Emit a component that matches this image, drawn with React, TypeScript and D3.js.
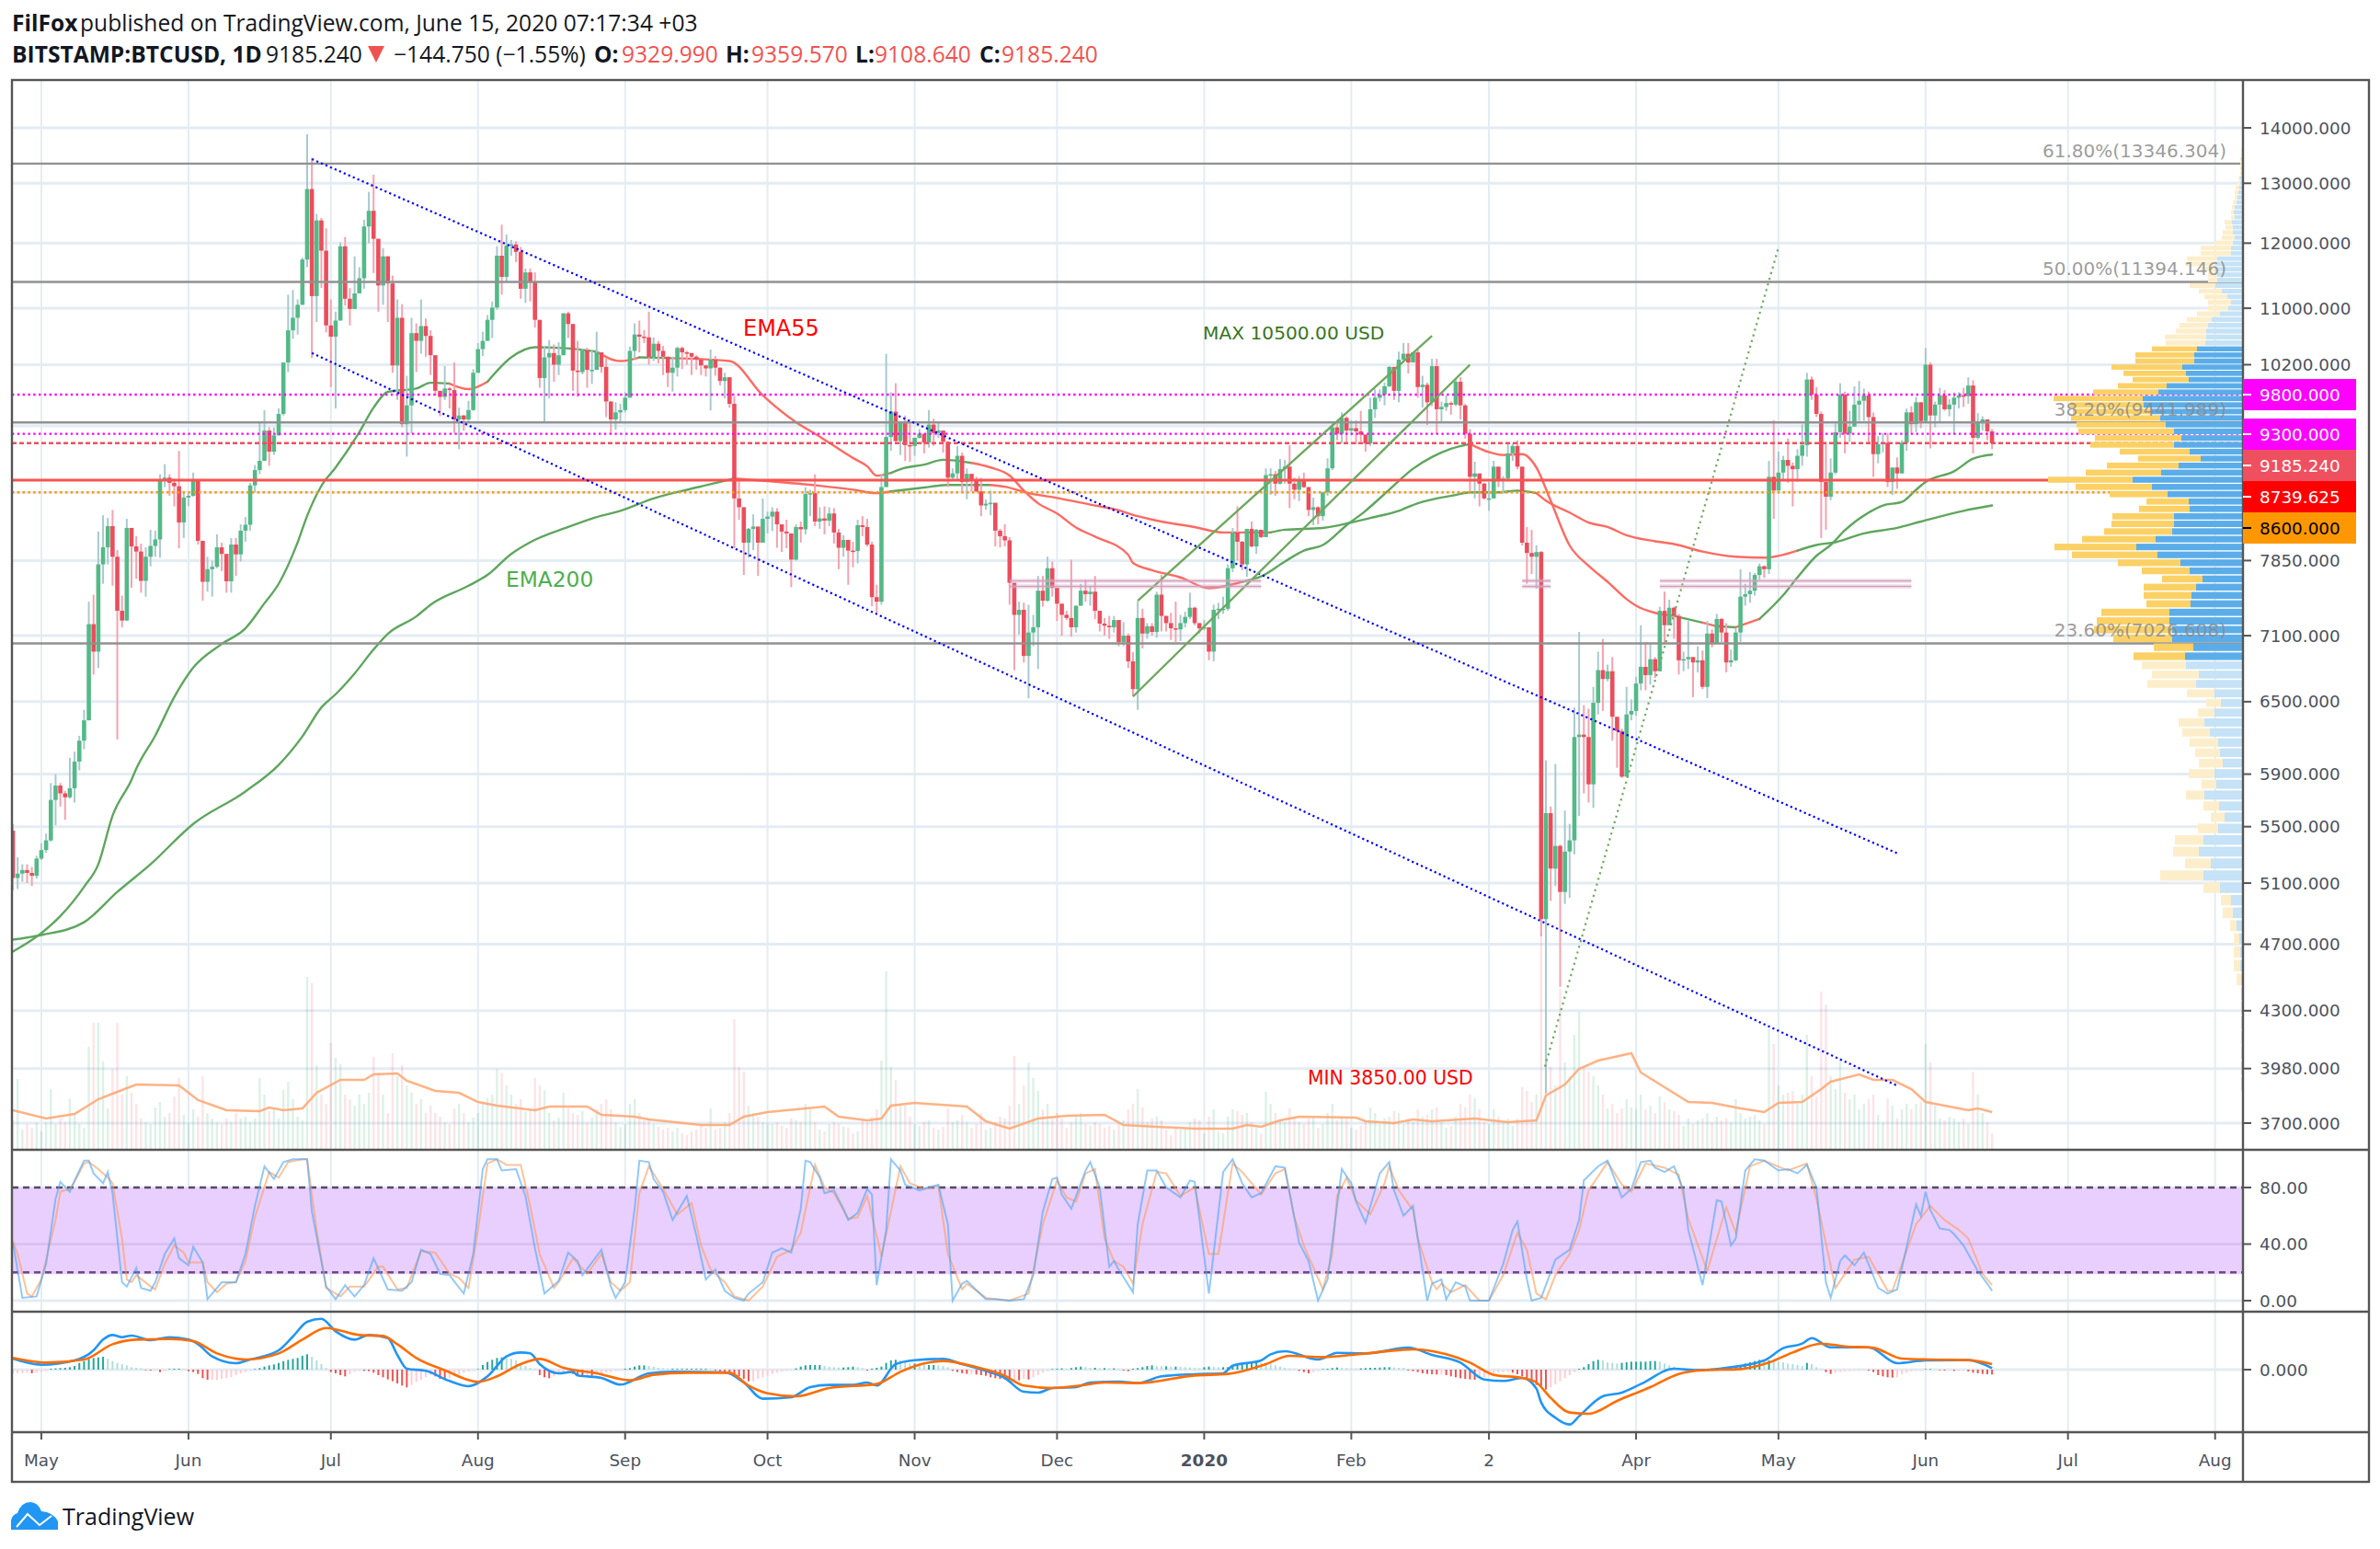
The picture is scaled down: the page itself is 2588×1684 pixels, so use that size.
import { useEffect, useRef } from 'react';
import * as d3 from 'd3';

// daily bars, first bar is 25 Apr 2019, last is 15 Jun 2020
const firstOpen = 5470;
const closes = [
  5135,5165,5190,5170,5150,5270,5330,5400,5700,5810,
  5750,5720,5790,6000,6170,6340,7210,6950,7810,7990,
  8220,7890,7340,7245,8200,8000,7945,7640,7890,8005,
  8075,8740,8770,8710,8670,8260,8540,8560,8735,8060,
  7630,7760,7785,7990,7920,7635,8020,7915,8170,8235,
  8680,8860,8970,9340,9080,9280,9550,10230,10680,10860,
  11050,11740,12900,11180,12370,11880,10750,10590,10820,11950,
  11140,10990,11220,11450,12270,12530,12070,11340,11790,11370,
  10190,10860,9420,9660,10640,10530,10740,10600,10330,9850,
  9770,9880,9860,9480,9530,9480,9600,10090,10415,10530,
  10830,11010,11800,11470,11960,11980,11860,11290,11540,11390,
  10830,10020,10300,10360,10200,10330,10925,10770,10120,10100,
  10400,10130,10130,10370,10170,9710,9480,9570,9600,9760,
  10390,10620,10590,10580,10300,10490,10390,10310,10090,10160,
  10430,10370,10360,10310,10270,10190,10150,10270,10160,9980,
  10030,9680,8530,8430,8040,8190,8215,8040,8300,8325,
  8380,8240,8160,8140,7860,8210,8185,8580,8590,8270,
  8305,8280,8360,8150,7985,8070,7955,7950,8230,8210,
  8020,7475,7430,8660,9260,9580,9210,9440,9160,9150,
  9250,9300,9190,9415,9310,9340,9200,8770,8820,9030,
  8720,8815,8735,8610,8450,8470,8480,8170,8110,8065,
  7620,7300,7350,6910,7130,7180,7540,7440,7770,7570,
  7410,7300,7270,7180,7390,7540,7505,7530,7340,7215,
  7195,7180,7250,7040,7100,6860,6610,7270,7120,7190,
  7135,7500,7290,7220,7170,7160,7220,7280,7370,7220,
  7170,7180,6950,7350,7360,7360,7770,8150,8050,7810,
  8190,8000,8180,8100,8800,8810,8700,8870,8900,8700,
  8630,8730,8660,8400,8430,8330,8600,8880,9380,9300,
  9500,9340,9370,9330,9290,9180,9610,9760,9800,9910,
  10170,9850,10270,10350,10230,10370,9900,9930,9700,10180,
  9610,9640,9690,9670,9970,9660,9300,8780,8820,8700,
  8530,8530,8900,8750,8760,9060,9150,8900,8040,7930,
  7890,7940,4860,5600,5200,5360,5040,5320,5400,6200,
  6220,6200,5820,6490,6780,6700,6770,6370,6250,5880,
  6390,6420,6660,6810,6735,6880,6770,7340,7200,7370,
  7290,6870,6880,6900,6850,6870,6630,7120,7030,7260,
  7130,6850,6870,7130,7480,7505,7540,7700,7790,7760,
  8780,8620,8830,8980,8910,8870,9030,9160,10000,9800,
  9550,8720,8550,8830,9320,9800,9300,9390,9670,9720,
  9790,9510,9050,9170,9190,8720,8890,8820,9190,9570,
  9420,9700,9460,10200,9530,9670,9790,9610,9670,9760,
  9790,9780,9920,9250,9440,9480,9330,9185,
];
const highs = [
  5520,5280,5230,5230,5210,5290,5380,5450,5830,5900,
  5830,5770,6030,6080,6210,6430,7430,7500,8160,8340,
  8310,8400,7960,7490,8300,8200,8110,8030,7990,8180,
  8170,8810,8930,8810,8760,9090,8600,8590,8830,8735,
  8060,7890,7850,8130,8040,7920,8090,8090,8240,8320,
  8710,8920,9450,9600,9380,9380,9620,10230,11200,11270,
  11130,11770,13880,13450,12480,12410,12240,11130,10950,12010,
  12100,11300,11790,11620,12380,12850,13150,12070,11920,11790,
  11490,11130,11060,10050,10860,10780,11130,10850,10680,10330,
  9850,10180,9900,10230,9630,9540,9720,10140,10500,10660,
  10900,11100,11950,12300,12140,12050,12030,11940,11600,11600,
  11540,10830,10450,10540,10480,10510,10930,10950,10770,10530,
  10420,10435,10400,10660,10370,10290,9710,9700,9680,9830,
  10450,10780,10820,10680,10950,10580,10530,10460,10310,10310,
  10450,10450,10390,10360,10330,10270,10190,10410,10320,10160,
  10090,10030,9780,8740,8430,8200,8350,8215,8530,8380,
  8430,8420,8240,8290,8140,8240,8270,8660,8630,8810,
  8430,8440,8430,8420,8190,8120,8060,8050,8290,8330,
  8300,8050,7600,8810,10350,9830,9950,9440,9530,9440,
  9255,9360,9300,9600,9490,9450,9340,9210,8880,9150,
  9070,8880,8810,8780,8770,8520,8620,8480,8190,8240,
  8100,7620,7430,7420,7400,7300,7690,7690,7890,7840,
  7570,7410,7340,7860,7390,7610,7650,7590,7690,7340,
  7270,7290,7290,7250,7230,7120,6945,7435,7360,7220,
  7220,7530,7700,7290,7320,7430,7300,7330,7520,7380,
  7220,7250,7180,7400,7420,7480,7810,8200,8440,8060,
  8190,8270,8190,8180,8880,8880,8850,8990,8980,9160,
  8770,8790,8830,8660,8540,8440,8600,9000,9430,9430,
  9570,9520,9470,9470,9590,9290,9760,9870,9870,9960,
  10180,10170,10380,10500,10500,10370,10420,10050,9960,10280,
  10280,9710,9790,9710,10010,10030,9680,9360,8960,8800,
  8710,8720,8970,8900,8790,9170,9180,9220,8900,8210,
  8180,8010,7950,6010,5650,5980,5370,5620,5520,6450,
  7135,6470,6440,6630,6950,7070,6830,6900,6370,6270,
  6630,6520,6720,7200,7040,7020,6900,7380,7530,7450,
  7380,7310,6950,7240,6900,7000,6960,7240,7160,7310,
  7270,7220,6970,7170,7760,7610,7730,7720,7820,7800,
  8970,9470,9080,9030,9240,8950,9110,9420,10090,10040,
  9900,9580,9200,9000,9430,9950,9840,9590,9910,9980,
  9880,9840,9570,9270,9310,9310,8890,9010,9220,9620,
  9650,9770,9700,10430,10230,9710,9890,9860,9740,9830,
  9830,9890,10030,9990,9560,9520,9480,9360,
];
const lows = [
  5050,5060,5110,5100,5080,5130,5260,5310,5390,5510,
  5650,5550,5710,5680,5930,6100,6340,6740,6800,7610,
  7810,7590,6180,7180,7240,7570,7660,7520,7480,7790,
  7890,7880,8660,8560,8440,7980,8090,8440,8550,8020,
  7440,7530,7480,7770,7740,7520,7520,7690,7840,8050,
  8170,8600,8810,8970,8910,9040,9280,9530,10100,10560,
  10620,11050,11620,10290,10800,11300,10650,9900,9620,10820,
  11040,10750,10990,11220,11290,12000,11530,10950,11050,10800,
  10090,9730,9380,9020,9300,10100,10350,10310,10060,9790,
  9520,9730,9620,9310,9110,9340,9450,9590,10090,10320,
  10530,10570,10980,11200,11400,11800,11700,11140,11080,11100,
  10720,9890,9450,9750,9970,10060,10330,10570,9850,9770,
  10070,9890,9940,10130,10090,9510,9300,9350,9450,9570,
  9760,10280,10370,10500,10200,10250,10220,10060,9900,9840,
  10040,10140,10200,10060,10130,10060,10040,9595,10050,9920,
  9750,9630,7980,8290,7700,7880,7960,7690,8040,8140,
  8165,7985,7940,7980,7575,7850,8040,8130,8330,8220,
  8190,8130,8220,8030,7760,7890,7600,7780,7820,8110,
  8000,7385,7320,7400,8670,9090,9200,9040,8970,8960,
  9030,9240,9060,9130,9150,9250,9070,8660,8730,8750,
  8590,8520,8610,8600,8330,8400,8340,8000,7990,8000,
  7400,6780,7110,6850,6530,7000,6790,7380,7430,7480,
  7240,7100,7250,7090,7130,7390,7430,7390,7260,7140,
  7100,7070,7130,7000,7000,6800,6550,6430,6980,7070,
  7100,7080,7140,7140,7060,7040,7050,7180,7260,7200,
  7120,7150,6870,6860,7260,7310,7340,7730,7850,7750,
  7680,7990,7920,8090,8100,8570,8560,8690,8700,8420,
  8520,8500,8650,8330,8230,8240,8280,8560,8860,9220,
  9180,9190,9280,9170,9200,9080,9150,9500,9710,9660,
  9900,9730,9700,10250,10080,10240,9760,9630,9410,9650,
  9300,9440,9590,9540,9650,9480,9240,8600,8530,8440,
  8520,8390,8530,8660,8590,8730,8970,8870,8010,7610,
  7710,7560,4750,3850,4980,5080,4440,4960,5000,5300,
  5580,5750,5680,5640,6390,6420,6680,6170,5950,5870,
  5880,6340,6380,6600,6600,6650,6710,6770,7030,7200,
  7070,6740,6770,6790,6540,6760,6610,6530,6990,7030,
  7040,6760,6810,6860,7040,7390,7420,7490,7650,7670,
  7710,8300,8620,8730,8710,8440,8720,8910,9020,9730,
  9510,8090,8180,8510,8810,9250,9060,9200,9390,9460,
  9460,9170,8780,8940,9070,8660,8570,8640,8820,9090,
  9310,9320,9370,9460,9120,9380,9440,9590,9520,9290,
  9620,9640,9680,9060,9230,9340,9220,9110,
];
const volumes = [
  32,77,22,28,24,30,20,30,66,28,
  34,30,56,40,28,24,112,138,138,96,
  45,88,138,60,80,62,50,34,30,28,
  46,52,36,40,58,78,38,30,44,36,
  80,40,34,30,28,34,30,40,34,36,
  30,34,78,60,42,44,34,65,74,55,
  36,32,188,181,92,60,50,116,100,93,
  60,55,48,60,50,62,101,84,60,40,
  105,80,92,70,62,50,55,40,48,40,
  36,30,28,45,50,40,30,35,40,52,
  56,60,88,84,70,60,50,55,42,44,
  78,70,65,40,32,35,62,45,40,38,
  42,30,35,44,50,55,44,30,25,28,
  50,55,40,32,34,28,25,22,24,20,
  24,18,16,20,22,28,24,45,22,24,
  30,40,142,90,85,48,40,36,30,30,
  28,30,26,24,34,32,30,50,44,30,
  22,20,28,30,28,25,24,18,20,32,
  30,36,44,97,194,90,76,50,48,36,
  28,26,30,32,24,22,25,45,30,32,
  38,30,24,28,40,22,24,30,36,34,
  48,102,50,70,95,78,64,44,50,36,
  40,34,24,30,36,40,28,26,30,28,
  24,26,22,30,32,44,50,66,46,30,
  34,36,32,22,16,24,22,24,30,34,
  32,18,36,44,20,18,36,44,42,38,
  40,30,24,18,63,50,40,32,30,45,
  36,30,28,34,36,24,28,40,50,32,
  36,34,24,22,26,30,46,40,28,34,
  36,42,40,28,34,30,44,36,38,44,
  46,30,24,26,36,50,46,60,56,44,
  30,28,44,36,30,34,26,34,68,64,
  52,60,236,120,90,70,175,95,80,125,
  150,90,85,80,70,60,45,50,40,45,
  55,46,44,60,44,48,40,58,52,44,
  42,38,26,34,28,32,34,40,30,36,
  32,34,30,55,40,34,36,38,32,28,
  132,115,70,60,62,64,50,60,125,80,
  58,172,158,80,66,100,62,55,60,44,
  50,55,60,38,30,56,48,34,44,50,
  44,50,52,115,95,48,34,32,36,34,
  30,34,28,85,60,40,30,18,
];
// [day index, value]
const volumeMa = [[0,43],[7,34],[13,39],[18,55],[21,61],[26,71],[35,70],[39,54],[45,43],[52,42],[54,46],[57,43],[61,45],[64,62],[69,76],[74,76],[76,82],[81,83],[83,75],[89,64],[94,62],[98,52],[102,48],[110,43],[113,47],[121,47],[124,38],[131,36],[134,33],[145,27],[151,27],[154,36],[159,41],[171,47],[174,36],[180,32],[183,34],[185,48],[190,51],[201,47],[205,31],[210,23],[216,34],[222,37],[230,38],[234,27],[241,25],[249,23],[257,23],[260,27],[263,25],[267,32],[271,36],[283,35],[285,31],[291,29],[295,33],[299,31],[308,34],[315,30],[321,32],[323,59],[327,71],[330,88],[334,97],[341,105],[343,84],[348,68],[353,52],[358,51],[364,45],[369,41],[372,51],[377,52],[381,66],[383,74],[389,82],[392,76],[396,76],[400,66],[403,52],[412,43],[414,45],[417,41]];
const ema55Knots = [[0,4654],[6,4770],[10,4880],[15,5075],[18,5230],[21,5581],[25,5856],[26,5943],[30,6212],[34,6540],[38,6803],[44,7021],[49,7170],[53,7414],[56,7609],[60,8043],[62,8333],[65,8674],[68,8890],[73,9320],[76,9631],[79,9836],[85,9880],[88,9957],[92,9945],[96,9872],[100,9970],[105,10300],[110,10440],[116,10430],[123,10380],[128,10250],[132,10300],[139,10290],[151,10250],[158,9790],[165,9445],[170,9265],[177,9004],[180,8905],[182,8794],[185,8826],[187,8870],[192,8925],[196,8982],[202,8945],[206,8890],[210,8795],[213,8620],[216,8475],[220,8360],[224,8205],[228,8105],[235,7910],[236,7825],[240,7750],[246,7675],[252,7565],[259,7630],[263,7685],[268,7840],[272,7955],[276,8015],[281,8230],[285,8390],[290,8630],[295,8875],[299,9015],[303,9115],[307,9175],[311,9075],[314,9040],[318,9050],[321,8890],[324,8505],[328,8010],[332,7795],[336,7630],[340,7455],[342,7390],[346,7320],[350,7290],[356,7225],[359,7190],[363,7180],[368,7260],[373,7495],[376,7675],[380,7900],[383,8015],[386,8175],[391,8370],[394,8450],[398,8490],[401,8630],[403,8720],[409,8845],[413,8995],[417,9045]];
const ema200Knots = [[0,4729],[6,4758],[15,4840],[22,5040],[29,5230],[38,5520],[49,5765],[56,5973],[61,6205],[65,6450],[68,6565],[72,6750],[76,6970],[79,7117],[85,7285],[88,7400],[96,7590],[100,7700],[105,7920],[109,8045],[117,8210],[123,8320],[128,8390],[135,8530],[144,8655],[152,8760],[159,8730],[170,8675],[177,8630],[182,8590],[185,8610],[192,8655],[197,8685],[201,8685],[206,8685],[209,8665],[214,8590],[220,8535],[227,8460],[232,8410],[237,8330],[241,8280],[249,8210],[255,8150],[265,8150],[268,8180],[276,8200],[282,8260],[286,8310],[292,8390],[296,8475],[304,8570],[307,8600],[313,8600],[317,8620],[321,8590],[323,8505],[328,8370],[332,8260],[336,8210],[340,8120],[346,8055],[350,8025],[356,7945],[363,7890],[369,7880],[376,7955],[380,8015],[384,8045],[390,8140],[397,8200],[402,8270],[411,8390],[417,8450]];
const stochK = [[0,41],[2,2],[5,3],[7,26],[9,72],[10,84],[12,77],[13,85],[15,99],[16,99],[17,90],[19,83],[20,91],[21,76],[23,13],[24,10],[26,23],[27,9],[29,7],[30,13],[32,33],[34,44],[35,30],[37,25],[38,38],[40,27],[41,1],[44,13],[47,13],[49,33],[51,67],[53,95],[55,86],[57,98],[59,100],[62,100],[63,63],[66,10],[68,1],[70,11],[72,3],[74,11],[76,30],[79,8],[82,7],[84,13],[86,36],[88,33],[90,19],[92,18],[95,5],[97,33],[99,93],[100,100],[102,100],[103,92],[106,93],[108,74],[110,37],[112,5],[115,14],[117,34],[119,28],[120,18],[124,36],[126,10],[127,2],[129,13],[131,65],[132,99],[134,98],[135,86],[137,77],[139,57],[142,74],[144,46],[146,15],[148,22],[150,7],[152,2],[154,0],[155,5],[158,13],[160,34],[162,37],[164,34],[166,65],[167,99],[168,98],[170,87],[171,76],[173,78],[175,65],[176,57],[178,62],[180,79],[181,75],[182,11],[184,50],[185,100],[187,92],[188,82],[191,78],[195,82],[197,54],[198,0],[200,12],[201,14],[205,1],[207,1],[210,0],[213,1],[215,18],[217,63],[219,86],[220,87],[221,75],[223,65],[226,92],[227,98],[229,80],[231,24],[232,28],[233,22],[236,6],[237,54],[239,92],[241,92],[243,80],[246,73],[248,85],[249,84],[252,5],[255,91],[257,100],[259,83],[261,73],[263,76],[266,95],[268,94],[271,41],[273,28],[275,0],[277,15],[279,67],[280,93],[282,83],[283,70],[285,55],[288,90],[290,98],[291,78],[293,60],[295,67],[296,44],[298,0],[299,12],[301,15],[302,1],[304,13],[306,10],[307,0],[311,0],[314,26],[316,50],[317,56],[319,15],[320,0],[322,2],[325,29],[328,36],[330,57],[331,85],[334,95],[336,99],[339,73],[341,79],[343,98],[345,99],[346,94],[348,91],[350,95],[352,78],[353,50],[356,11],[359,71],[360,70],[362,39],[363,44],[365,92],[367,100],[369,99],[372,92],[374,93],[376,90],[378,96],[380,80],[382,13],[383,2],[385,28],[386,32],[388,25],[390,34],[393,9],[395,5],[397,8],[401,68],[402,60],[403,77],[404,64],[406,51],[408,50],[409,47],[411,39],[414,21],[416,12],[417,7]];
const stochD = [[0,42],[1,33],[3,5],[4,3],[6,15],[9,57],[10,77],[12,79],[13,84],[15,97],[16,98],[18,93],[20,87],[21,83],[23,44],[24,15],[25,13],[26,18],[29,10],[30,8],[32,26],[34,39],[36,34],[37,27],[40,27],[41,13],[43,6],[45,12],[47,13],[49,28],[51,59],[54,91],[56,87],[58,98],[61,100],[62,100],[64,50],[66,9],[69,3],[71,10],[74,10],[77,24],[78,24],[81,8],[83,9],[86,35],[89,34],[92,19],[94,16],[96,9],[98,50],[100,97],[102,100],[104,96],[107,96],[109,67],[111,33],[114,9],[115,13],[118,30],[121,19],[124,33],[126,13],[128,7],[130,13],[132,76],[134,95],[137,79],[140,61],[143,69],[145,39],[147,22],[150,13],[152,3],[155,0],[158,10],[161,31],[164,36],[166,48],[169,96],[171,80],[173,76],[176,58],[178,59],[180,74],[182,46],[183,31],[185,63],[187,95],[189,83],[192,79],[195,81],[197,33],[200,8],[201,12],[205,2],[210,0],[214,5],[217,54],[220,85],[222,73],[224,70],[226,90],[228,93],[230,44],[232,28],[234,24],[236,12],[238,54],[241,91],[243,90],[246,74],[249,80],[252,33],[254,33],[256,76],[257,97],[259,91],[263,75],[266,90],[268,93],[270,59],[272,39],[276,8],[278,33],[279,74],[281,87],[283,71],[286,61],[289,83],[290,95],[292,78],[295,64],[296,44],[299,13],[300,8],[301,12],[303,6],[306,11],[309,0],[311,0],[314,18],[317,48],[319,36],[321,5],[323,1],[325,18],[328,33],[330,50],[332,78],[336,98],[339,82],[341,77],[344,97],[348,94],[351,89],[353,58],[357,21],[361,66],[363,48],[366,95],[369,99],[374,92],[378,97],[380,72],[384,9],[388,29],[391,31],[395,7],[396,7],[401,54],[404,67],[407,57],[410,50],[412,44],[415,19],[417,11]];
const macdLine = [[0,252],[6,112],[13,210],[17,441],[19,686],[21,791],[23,742],[25,777],[29,672],[33,742],[37,686],[39,581],[42,301],[47,147],[50,231],[56,441],[59,756],[62,1092],[65,1162],[68,875],[72,686],[75,791],[79,721],[81,336],[83,21],[87,-28],[92,-259],[96,-378],[100,-154],[104,301],[107,392],[109,371],[111,126],[115,-84],[118,-49],[119,-133],[124,-189],[128,-343],[134,-84],[139,-49],[150,-63],[154,-294],[158,-665],[164,-630],[168,-399],[172,-350],[177,-350],[180,-294],[182,-364],[186,126],[190,217],[196,245],[200,126],[205,-28],[209,-189],[213,-504],[216,-525],[219,-420],[224,-399],[227,-294],[233,-273],[237,-308],[242,-154],[249,-105],[255,-84],[257,91],[263,210],[265,350],[268,420],[275,231],[279,385],[285,371],[294,504],[299,336],[305,161],[310,-224],[314,-259],[318,-189],[321,-434],[322,-749],[325,-1099],[328,-1253],[330,-1064],[335,-609],[339,-525],[343,-329],[350,21],[355,-14],[361,42],[369,210],[373,490],[377,595],[379,721],[383,511],[391,511],[397,147],[403,210],[412,217],[417,35]];
const macdSignal = [[0,266],[7,161],[15,231],[21,581],[26,686],[33,700],[38,651],[43,371],[49,231],[56,371],[61,686],[66,952],[73,791],[78,770],[81,581],[85,266],[91,-14],[98,-280],[102,-154],[107,126],[111,245],[116,42],[123,-84],[130,-245],[135,-119],[142,-70],[151,-70],[155,-364],[159,-539],[165,-609],[172,-420],[182,-329],[187,-49],[192,140],[196,196],[203,56],[209,-140],[213,-364],[219,-420],[225,-364],[230,-294],[237,-308],[249,-133],[256,-98],[264,126],[269,315],[276,287],[284,357],[295,462],[302,350],[307,161],[312,-119],[318,-189],[321,-294],[324,-644],[328,-980],[332,-1008],[338,-714],[345,-399],[351,-98],[356,-14],[364,14],[370,161],[375,392],[381,595],[386,532],[392,497],[398,252],[404,231],[412,217],[417,126]];
const macdHist = [
  -12,-12,-12,-10,-12,-10,-8,-5,3,4,
  5,6,8,12,22,28,35,38,40,42,
  35,28,22,18,14,8,6,4,-2,-3,
  -3,-8,-5,2,3,3,2,-5,-8,-14,
  -28,-33,-33,-33,-30,-28,-24,-18,-12,-8,
  -3,2,5,10,14,17,22,28,32,35,
  38,45,50,42,30,18,5,-8,-12,-18,
  -22,-15,-6,-3,-4,-5,-10,-18,-25,-32,
  -38,-45,-52,-58,-50,-40,-33,-25,-18,-22,
  -30,-32,-28,-22,-15,-10,-6,-3,2,15,
  25,32,38,40,38,35,30,20,12,5,
  2,-18,-25,-28,-22,-15,-14,-12,-14,-16,
  -18,-18,-20,-16,-12,-10,-8,-4,-2,3,
  5,10,14,14,12,10,6,4,3,3,
  3,3,3,3,3,3,3,2,-3,-5,
  -6,-10,-14,-22,-30,-38,-38,-30,-25,-20,
  -14,-10,-6,-3,-2,4,10,14,15,15,
  15,12,10,8,7,7,8,10,8,5,
  -3,3,6,10,22,30,32,30,25,20,
  20,18,15,15,15,14,12,8,-4,-8,
  -12,-14,-14,-16,-18,-20,-25,-28,-30,-32,
  -33,-33,-35,-30,-32,-25,-18,-10,-4,2,
  3,4,3,5,8,10,8,6,6,5,
  5,4,4,3,-3,-5,3,5,8,12,
  14,12,11,11,10,10,9,8,7,5,
  4,8,10,9,8,8,8,12,18,20,
  22,24,26,22,20,18,14,10,6,3,
  2,-4,-8,-12,-8,-4,2,3,5,7,
  6,5,4,3,4,5,6,6,7,8,
  8,7,6,5,-3,-5,-8,-12,-14,-15,
  -16,-16,-18,-22,-25,-28,-30,-32,-33,-28,
  -25,-20,-15,-10,-8,-5,-10,-15,-22,-30,
  -40,-50,-55,-65,-58,-48,-38,-28,-18,-8,
  3,8,18,28,32,30,24,22,20,22,
  24,26,26,26,26,28,28,26,20,14,
  10,6,4,3,2,2,3,3,4,5,
  5,8,10,12,15,20,24,28,32,30,
  30,28,26,24,20,18,15,12,22,18,
  8,2,-8,-14,-10,-8,-6,-4,-3,-3,
  -2,-3,-8,-18,-22,-25,-26,-25,-16,-10,
  -6,-3,-2,2,2,1,-2,-3,-3,-4,
  -4,-3,-6,-10,-12,-14,-15,-16,
];

// volume profile, 120 rows from 3850 up to 13880, lowest row first
const profileLow = 3850;
const profileStep = 83.58;
const profileBuy = [2,2,2,2,2,2,2,2,3,3,4,7,11,13,25,43,35,48,43,27,20,26,42,29,31,22,25,27,36,42,31,24,31,51,48,62,63,54,77,77,80,80,57,56,51,44,58,68,93,116,95,77,75,75,58,59,82,99,120,89,70,46,58,75,67,75,84,90,100,108,109,92,83,59,62,66,53,53,50,41,40,40,38,34,25,16,13,17,23,30,28,28,30,30,28,13,13,11,9,11,11,12,9,10,9,7,6,5,4,3,3,2,2,2,2,1,1,1,1,1];
const profileSell = [0,0,0,0,0,0,0,5,7,7,6,7,11,11,18,47,28,28,31,22,15,17,20,16,28,26,27,31,30,28,18,16,30,53,51,48,56,43,64,85,79,74,48,52,57,44,52,68,93,89,80,74,68,67,55,46,63,83,92,82,78,68,76,91,94,104,97,97,85,80,97,71,53,61,68,77,64,64,49,43,45,33,31,27,25,22,25,25,25,28,10,10,16,33,33,33,33,20,14,11,8,8,4,3,3,4,3,4,4,2,2,1,1,1,1,1,1,0,0,0];
const profileSolidRows = [36, 78];

const priceLabels = [14000, 13000, 12000, 11000, 10200, 7850, 7100, 6500, 5900, 5500, 5100, 4700, 4300, 3980, 3700];
const gridPrices = [14000, 13000, 12000, 11000, 10200, 9400, 8600, 7850, 7100, 6500, 5900, 5500, 5100, 4700, 4300, 3980, 3700];
const monthTicks: [number, string][] = [[6,'May'],[37,'Jun'],[67,'Jul'],[98,'Aug'],[129,'Sep'],[159,'Oct'],[190,'Nov'],[220,'Dec'],[251,'2020'],[282,'Feb'],[311,'2'],[342,'Apr'],[372,'May'],[403,'Jun'],[433,'Jul'],[464,'Aug']];
const fibLevels: [number, string, number][] = [
  [13346.304, '61.80%(13346.304)', 164],
  [11394.146, '50.00%(11394.146)', 292],
  [9441.989, '38.20%(9441.989)', 445],
  [7026.608, '23.60%(7026.608)', 685],
];
const priceBoxes: [string, string, string, number][] = [
  ['9800.000', '#ff00ff', '#ffffff', 429],
  ['9300.000', '#ff00ff', '#ffffff', 472],
  ['9185.240', '#ef5060', '#ffffff', 506],
  ['8739.625', '#ff0000', '#ffffff', 540],
  ['8600.000', '#ff9800', '#000000', 574],
];
// [day, price, day, price]
const blueDotted = [[63, 13427, 397, 5308], [63, 10360, 397, 3890]];
const greenChannel = [[236, 6545, 307, 10200], [237, 7440, 299, 10600]];
const greenDotted = [322.8, 3990, 372, 11930];
const pinkRails = [[210, 263], [318, 324], [347, 400]];
const pinkPrices = [7640, 7583];

const AXIS_FONT = '"DejaVu Sans", sans-serif';
const HEAD_FONT = '"Open Sans", sans-serif';
const TEXT_GREY = '#4c525e';

const App = () => {
  const svgRef = useRef<SVGSVGElement>(null);

  useEffect(() => {
    if (!svgRef.current) return;
    const svg = d3.select(svgRef.current);
    svg.selectAll('*').remove();

    const left = 13, right = 2439, outerRight = 2576;
    const top = 87, mainBottom = 1250, stochBottom = 1426, macdBottom = 1557, axisBottom = 1611;

    const x = d3.scaleLinear().domain([0, 464]).range([14, 2408.7]);
    const y = d3.scaleLog().domain([14000, 3700]).range([139, 1221]);
    const volY = d3.scaleLinear().domain([0, 250]).range([mainBottom, mainBottom - 250]);
    const stochY = d3.scaleLinear().domain([0, 80]).range([1414, 1291]);
    const macdY = d3.scaleLinear().domain([-1200, 1200]).range([1546.1, 1431.9]);
    const histY = d3.scaleLinear().domain([-100, 100]).range([1522.3, 1455.7]);
    const profileX = d3.scaleLinear().domain([0, 300]).range([right, right - 300]);

    svg.append('rect').attr('width', 2588).attr('height', 1684).attr('fill', '#ffffff');

    const defs = svg.append('defs');
    const clip = (id: string, y0: number, y1: number) =>
      defs.append('clipPath').attr('id', id).append('rect')
        .attr('x', left).attr('y', y0).attr('width', right - left).attr('height', y1 - y0);
    clip('main-clip', top, mainBottom);
    clip('lower-clip', mainBottom, macdBottom);

    // grid
    const grid = svg.append('g').attr('stroke', '#e4ecf3');
    monthTicks.forEach(([d]) => {
      grid.append('line').attr('x1', x(d)).attr('x2', x(d)).attr('y1', top).attr('y2', macdBottom).attr('stroke-width', 2);
    });
    gridPrices.forEach(p => {
      grid.append('line').attr('x1', left).attr('x2', right).attr('y1', y(p)).attr('y2', y(p)).attr('stroke-width', 3);
    });
    [0, 40, 80].forEach(v => {
      grid.append('line').attr('x1', left).attr('x2', right).attr('y1', stochY(v)).attr('y2', stochY(v)).attr('stroke-width', 3);
    });
    grid.append('line').attr('x1', left).attr('x2', right).attr('y1', macdY(0)).attr('y2', macdY(0)).attr('stroke-width', 3);

    const main = svg.append('g').attr('clip-path', 'url(#main-clip)');
    const opens = closes.map((_, i) => (i === 0 ? firstOpen : closes[i - 1]));

    // volume + its average
    main.append('g').selectAll('rect').data(volumes).join('rect')
      .attr('x', (_, i) => x(i) - 1.2)
      .attr('width', 2.4)
      .attr('y', v => volY(v))
      .attr('height', v => mainBottom - volY(v))
      .attr('fill', (_, i) => (closes[i] >= opens[i] ? 'rgb(83,185,135)' : 'rgb(235,77,92)'))
      .attr('fill-opacity', (_, i) => (closes[i] >= opens[i] ? 0.2 : 0.15));

    const vLine = d3.line<number[]>().x(d => x(d[0])).y(d => volY(d[1]));
    main.append('path').attr('d', vLine(volumeMa)).attr('fill', 'none')
      .attr('stroke', '#ffa56e').attr('stroke-opacity', 0.85).attr('stroke-width', 2.5);

    // EMAs: green while the close is above, red while it is below
    const priceLine = d3.line<number[]>().x(d => x(d[0])).y(d => y(d[1])).curve(d3.curveMonotoneX);
    [ema55Knots, ema200Knots].forEach(knots => {
      const isAbove = (k: number) => closes[knots[k][0]] >= knots[k][1];
      let start = 0;
      for (let k = 1; k < knots.length; k++) {
        if (k === knots.length - 1 || isAbove(k) !== isAbove(start)) {
          main.append('path').attr('d', priceLine(knots.slice(start, k + 1))).attr('fill', 'none')
            .attr('stroke', isAbove(start) ? '#5ea65e' : '#ff6a62')
            .attr('stroke-width', 2.4).attr('stroke-linecap', 'round');
          start = k;
        }
      }
    });

    // candles
    const candles = main.append('g');
    closes.forEach((c, i) => {
      const o = opens[i];
      const up = c >= o;
      candles.append('line').attr('x1', x(i)).attr('x2', x(i))
        .attr('y1', y(highs[i])).attr('y2', y(lows[i]))
        .attr('stroke', up ? '#a8c9cd' : '#f4a3af').attr('stroke-width', 2);
      const yTop = y(Math.max(o, c));
      const yBot = y(Math.min(o, c));
      candles.append('rect').attr('x', x(i) - 2.3).attr('width', 4.6)
        .attr('y', yTop).attr('height', Math.max(yBot - yTop, 1.5))
        .attr('fill', up ? '#53b987' : '#eb4d5c');
    });

    // horizontal levels
    const hLine = (p: number, color: string, width: number, dash?: string) => {
      const l = main.append('line').attr('x1', left).attr('x2', right).attr('y1', y(p)).attr('y2', y(p))
        .attr('stroke', color).attr('stroke-width', width);
      if (dash) l.attr('stroke-dasharray', dash);
    };
    fibLevels.forEach(([p]) => hLine(p, '#919191', 2.4));
    hLine(9800, '#ff00ff', 2.4, '2.4 3.4');
    hLine(9300, '#ff00ff', 2.4, '2.4 3.4');
    hLine(9185.24, '#ef5060', 2.4, '5 3');
    hLine(8739.625, '#f9534f', 3);
    hLine(8600, '#ff9800', 2.4, '2.4 3.4');

    // drawings
    blueDotted.forEach(([d0, p0, d1, p1]) => {
      main.append('line').attr('x1', x(d0)).attr('y1', y(p0)).attr('x2', x(d1)).attr('y2', y(p1))
        .attr('stroke', '#0000ff').attr('stroke-width', 2.2).attr('stroke-dasharray', '2.2 3.2');
    });
    greenChannel.forEach(([d0, p0, d1, p1]) => {
      main.append('line').attr('x1', x(d0)).attr('y1', y(p0)).attr('x2', x(d1)).attr('y2', y(p1))
        .attr('stroke', '#6fa85f').attr('stroke-width', 2.4);
    });
    main.append('line').attr('x1', x(greenDotted[0])).attr('y1', y(greenDotted[1]))
      .attr('x2', x(greenDotted[2])).attr('y2', y(greenDotted[3]))
      .attr('stroke', '#6fa85f').attr('stroke-width', 2.2).attr('stroke-dasharray', '2.2 4.2');
    pinkRails.forEach(([d0, d1]) => {
      pinkPrices.forEach(p => {
        main.append('line').attr('x1', x(d0)).attr('x2', x(d1)).attr('y1', y(p)).attr('y2', y(p))
          .attr('stroke', '#d9a9c6').attr('stroke-opacity', 0.3).attr('stroke-width', 5);
        main.append('line').attr('x1', x(d0)).attr('x2', x(d1)).attr('y1', y(p)).attr('y2', y(p))
          .attr('stroke', '#cf9fbd').attr('stroke-width', 1.6);
      });
    });

    // volume profile
    const profile = main.append('g');
    profileBuy.forEach((b, k) => {
      const lo = profileLow + profileStep * k;
      const hi = lo + profileStep;
      const yHi = y(hi);
      const h = (y(lo) - yHi) * 0.84;
      const solid = k >= profileSolidRows[0] && k <= profileSolidRows[1];
      profile.append('rect').attr('x', profileX(b)).attr('y', yHi).attr('height', h)
        .attr('width', right - profileX(b)).attr('fill', solid ? '#5bade9' : '#c5e2f6');
      const s = profileSell[k];
      profile.append('rect').attr('x', profileX(b + s)).attr('y', yHi).attr('height', h)
        .attr('width', profileX(b) - profileX(b + s)).attr('fill', solid ? '#fbd166' : '#fdeecb');
    });

    // annotation text
    const label = (g: d3.Selection<any, any, any, any>, tx: number, ty: number, t: string, size: number, fill: string, font = AXIS_FONT) =>
      g.append('text').attr('x', tx).attr('y', ty).attr('dominant-baseline', 'central')
        .attr('font-family', font).attr('font-size', size).attr('fill', fill).text(t);
    label(svg, 808, 357, 'EMA55', 24, '#ff0000');
    label(svg, 550, 629, 'EMA200', 23.3, '#4caf50');
    label(svg, 1308, 362, 'MAX 10500.00 USD', 20.2, '#38761d');
    label(svg, 1422, 1172, 'MIN 3850.00 USD', 20.4, '#ff0000');
    fibLevels.forEach(([, t, ty]) => {
      label(svg, 2421, ty, t, 20, '#8a8a8a').attr('text-anchor', 'end').attr('fill-opacity', 0.85);
    });

    // stochastic
    const lower = svg.append('g').attr('clip-path', 'url(#lower-clip)');
    lower.append('rect').attr('x', left).attr('width', right - left)
      .attr('y', stochY(80)).attr('height', stochY(20) - stochY(80) + 2)
      .attr('fill', '#e9cffd');
    lower.append('line').attr('x1', left).attr('x2', right).attr('y1', stochY(40)).attr('y2', stochY(40))
      .attr('stroke', '#d6bff0').attr('stroke-width', 2.4);
    lower.append('line').attr('x1', left).attr('x2', right).attr('y1', stochY(80)).attr('y2', stochY(80))
      .attr('stroke', '#574a5e').attr('stroke-width', 2.4).attr('stroke-dasharray', '7 5');
    lower.append('line').attr('x1', left).attr('x2', right).attr('y1', stochY(20)).attr('y2', stochY(20))
      .attr('stroke', '#6a4a85').attr('stroke-width', 2.4).attr('stroke-dasharray', '7 5');
    const sLine = d3.line<number[]>().x(d => x(d[0])).y(d => stochY(d[1]));
    lower.append('path').attr('d', sLine(stochD)).attr('fill', 'none')
      .attr('stroke', '#ff9a58').attr('stroke-opacity', 0.6).attr('stroke-width', 2);
    lower.append('path').attr('d', sLine(stochK)).attr('fill', 'none')
      .attr('stroke', '#4aa5f5').attr('stroke-opacity', 0.6).attr('stroke-width', 2);

    // macd
    lower.append('g').selectAll('rect').data(macdHist).join('rect')
      .attr('x', (_, i) => x(i) - 1)
      .attr('width', 2)
      .attr('y', v => Math.min(histY(v), histY(0)))
      .attr('height', v => Math.abs(histY(v) - histY(0)))
      .attr('fill', (v, i) => {
        const prev = i > 0 ? macdHist[i - 1] : v;
        if (v >= 0) return v >= prev ? '#26a69a' : '#b2dfdb';
        return v < prev ? '#ef5350' : '#ffcdd2';
      });
    const mLine = d3.line<number[]>().x(d => x(d[0])).y(d => macdY(d[1])).curve(d3.curveMonotoneX);
    lower.append('path').attr('d', mLine(macdLine)).attr('fill', 'none').attr('stroke', '#2196f3').attr('stroke-width', 2.6);
    lower.append('path').attr('d', mLine(macdSignal)).attr('fill', 'none').attr('stroke', '#ff6d00').attr('stroke-width', 2.6);

    // frame
    const frame = svg.append('g').attr('stroke', '#555555').attr('stroke-width', 2.4);
    frame.append('rect').attr('x', left).attr('y', top).attr('width', outerRight - left).attr('height', axisBottom - top).attr('fill', 'none');
    [mainBottom, stochBottom, macdBottom].forEach(v => {
      frame.append('line').attr('x1', left).attr('x2', outerRight).attr('y1', v).attr('y2', v);
    });
    frame.append('line').attr('x1', right).attr('x2', right).attr('y1', top).attr('y2', axisBottom);

    // price axis
    const axis = svg.append('g');
    const tick = (ty: number, color: string) =>
      axis.append('line').attr('x1', right).attr('x2', right + 9).attr('y1', ty).attr('y2', ty)
        .attr('stroke', color).attr('stroke-width', 2);
    priceLabels.forEach(p => {
      tick(y(p), '#555555');
      label(axis, 2457, y(p), d3.format('.3f')(p), 18.4, TEXT_GREY);
    });
    priceBoxes.forEach(([t, fill, ink, cy]) => {
      axis.append('rect').attr('x', right).attr('y', cy - 17).attr('width', 123).attr('height', 34).attr('fill', fill);
      tick(cy, ink);
      label(axis, 2457, cy, t, 18.4, ink);
    });
    [[80, '80.00'], [40, '40.00'], [0, '0.00']].forEach(([v, t]) => {
      tick(stochY(v as number), '#555555');
      label(axis, 2457, stochY(v as number), t as string, 18.4, TEXT_GREY);
    });
    tick(macdY(0), '#555555');
    label(axis, 2457, macdY(0), '0.000', 18.4, TEXT_GREY);

    // time axis
    monthTicks.forEach(([d, t]) => {
      axis.append('line').attr('x1', x(d)).attr('x2', x(d)).attr('y1', macdBottom).attr('y2', macdBottom + 8)
        .attr('stroke', '#555555').attr('stroke-width', 2);
      label(axis, x(d), 1587, t, 18.4, TEXT_GREY).attr('text-anchor', 'middle')
        .attr('font-weight', t === '2020' ? 700 : 400);
    });

    // header
    const head = svg.append('g');
    const headText = (tx: number, ty: number, t: string, fill: string, bold = false) =>
      label(head, tx, ty, t, 24.6, fill, HEAD_FONT).attr('font-weight', bold ? 700 : 400);
    headText(13, 24, 'FilFox', '#131722', true);
    headText(87, 24, 'published on TradingView.com, June 15, 2020 07:17:34 +03', '#131722');
    headText(13, 58, 'BITSTAMP:BTCUSD, 1D', '#131722', true);
    headText(289, 58, '9185.240', '#131722');
    head.append('path').attr('d', d3.line()([[400, 50], [418, 50], [409, 68]])).attr('fill', '#ef5350');
    headText(428, 58, '−144.750 (−1.55%)', '#131722');
    headText(646, 58, 'O:', '#131722', true);
    headText(676, 58, '9329.990', '#ef5350');
    headText(789, 58, 'H:', '#131722', true);
    headText(817, 58, '9359.570', '#ef5350');
    headText(930, 58, 'L:', '#131722', true);
    headText(951, 58, '9108.640', '#ef5350');
    headText(1065, 58, 'C:', '#131722', true);
    headText(1089, 58, '9185.240', '#ef5350');

    // logo
    const logo = svg.append('g');
    logo.append('path').attr('fill', '#2196f3')
      .attr('d', 'M12 1663 L12 1653 Q13 1647 19 1645 Q23 1633 33 1633 Q41 1633 45 1643 Q58 1644 63 1654 L63 1663 Z');
    logo.append('path').attr('fill', 'none').attr('stroke', '#ffffff').attr('stroke-width', 2)
      .attr('d', 'M18 1660 L30 1646 L43 1658 L56 1648');
    label(logo, 68, 1648, 'TradingView', 25, '#131722', HEAD_FONT);
  }, []);

  return (
    <svg
      ref={svgRef}
      width={2588}
      height={1684}
      style={{ position: 'absolute', left: 0, top: 0, display: 'block' }}
    />
  );
};

export default App;
